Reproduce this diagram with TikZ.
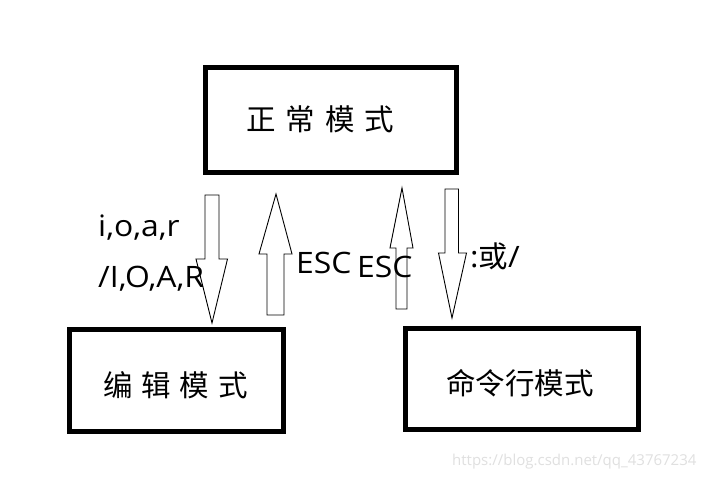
\documentclass[tikz,border=0pt]{standalone}
\usepackage{fontspec}
\setmainfont{Open Sans}
\newfontfamily\cjk{Noto Sans CJK SC}
\newfontfamily\widesans[FakeStretch=1.08]{Open Sans}
\begin{document}
\begin{tikzpicture}[x=1pt,y=-1pt,
  modebox/.style={draw=black,line width=5pt},
  fatarrow/.style={draw=black,line width=0.9pt,fill=white,line join=miter},
  cjklabel/.style={font=\cjk\fontsize{29.5}{34}\selectfont,inner sep=0pt},
  latlabel/.style={font=\widesans\fontsize{29.5}{33}\selectfont,inner sep=0pt,anchor=base west},
]
\useasboundingbox (0,0) rectangle (704,477);
\fill[white] (0,0) rectangle (704,477);
% boxes
\draw[modebox] (205,67.5) rectangle (456.5,172.5);
\draw[modebox] (69.8,329.8) rectangle (283.5,431.5);
\draw[modebox] (405.5,328.5) rectangle (638.5,429.5);
\node[cjklabel] (normal) at (320.5,119) {正\hspace{10pt}常\hspace{10pt}模\hspace{10pt}式};
\node[cjklabel] (edit) at (175.5,385) {编\hspace{9pt}辑\hspace{9pt}模\hspace{9pt}式};
\node[cjklabel] (cmd) at (520,383) {命令行模式};
% arrows
\draw[fatarrow] (205,195) -- (219,195) -- (219,259) -- (227.5,259) -- (212,323) -- (196,259) -- (205,259) -- cycle;
\draw[fatarrow] (267,315) -- (284,315) -- (284,254) -- (292,254) -- (276,194) -- (259,254) -- (267,254) -- cycle;
\draw[fatarrow] (396,309) -- (407,309) -- (407,248) -- (413,248) -- (402,188) -- (390,248) -- (396,248) -- cycle;
\draw[fatarrow] (445,189) -- (458.5,189) -- (458.5,253) -- (466.5,253) -- (452,318) -- (438.5,253) -- (445,253) -- cycle;
% labels
\node[latlabel] (l1) at (98,236) {i,o,a,r};
\node[latlabel] (l2) at (98,287) {/I,O,A,R};
\node[latlabel] (esc1) at (296,273) {ESC};
\node[latlabel] (esc2) at (357,277.5) {ESC};
\node[latlabel] (orl) at (470,267) {:{\cjk 或}/};
% watermark
\node[font=\fontsize{15}{18}\selectfont,text=black!12,inner sep=0pt,anchor=base west] (wm) at (452,465) {https://blog.csdn.net/qq\_43767234};
\end{tikzpicture}
\end{document}
